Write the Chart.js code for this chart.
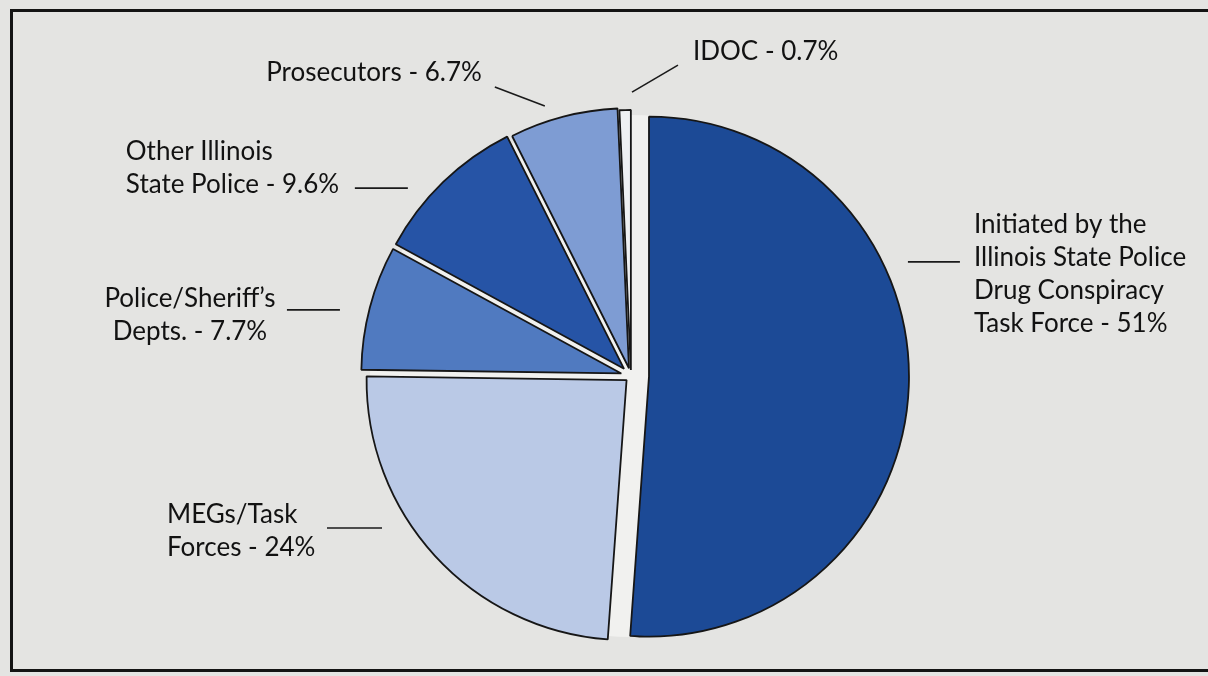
<!DOCTYPE html>
<html>
<head>
<meta charset="utf-8">
<title>Drug conspiracy cases by source</title>
<script src="https://cdn.jsdelivr.net/npm/chart.js@4.4.1/dist/chart.umd.min.js"></script>
<style>
  html, body { margin: 0; padding: 0; background: #e4e4e2; }
  body { width: 1208px; height: 676px; overflow: hidden; position: relative; }
  #frame { position: absolute; left: 10px; top: 9px; width: 1300px; height: 657px; border: 3px solid #141414; }
  #pie { position: absolute; left: 0; top: 0; }
</style>
</head>
<body>
<div id="frame"></div>
<canvas id="pie" width="1208" height="676"></canvas>
<script>
/* data, clockwise from 12 o'clock */
const categories = [
  "Initiated by the Illinois State Police Drug Conspiracy Task Force",
  "MEGs/Task Forces",
  "Police/Sheriff’s Depts.",
  "Other Illinois State Police",
  "Prosecutors",
  "IDOC"
];
const shares = [51, 24, 7.7, 9.6, 6.7, 0.7];

// how each label is broken into lines (the value is added to the last line)
const labelNames = [
  ["Initiated by the", "Illinois State Police", "Drug Conspiracy", "Task Force"],
  ["MEGs/Task", "Forces"],
  ["Police/Sheriff’s", "Depts."],
  ["Other Illinois", "State Police"],
  ["Prosecutors"],
  ["IDOC"]
];

/* styling */
const sliceColors = ["#1c4a96", "#bac9e6", "#507ac0", "#2654a6", "#7e9cd3", "#eef0f3"];
const explodePx   = [18, 6, 10, 10, 8, 6];   // how far each slice is pulled out
const pieRadius   = 260;
const textFont    = "26px Lato, 'Open Sans', sans-serif";

// leader line: starts at (angle, k * radius) from the centre, then runs (dx, dy);
// text is placed from the far end of the line
const leaders = [
  { angle: 67.6,  k: 1.152, dx: 52,  dy: 0,   align: "left",   tx: 14,   ty: -29 },
  { angle: 238.6, k: 1.122, dx: -55, dy: 0,   align: "left",   tx: -160, ty: -5 },
  { angle: 282.8, k: 1.148, dx: -53, dy: 0,   align: "center", tx: -97,  ty: -3 },
  { angle: 310.1, k: 1.122, dx: -53, dy: 0,   align: "left",   tx: -229, ty: -28 },
  { angle: 342.3, k: 1.090, dx: -50, dy: -19, align: "right",  tx: -13,  ty: -6 },
  { angle: 0.2,   k: 1.092, dx: 46,  dy: -27, align: "left",   tx: 15,   ty: -5 }
];
const lineHeight = 33;

function labelText(i) {
  const lines = labelNames[i].slice();
  lines[lines.length - 1] += " - " + shares[i] + "%";
  return lines;
}

// pull the slices apart (move each arc along its middle angle)
const explodePlugin = {
  id: "explode",
  afterDatasetsUpdate(chart) {
    const meta = chart.getDatasetMeta(0);
    meta.data.forEach((arc, i) => {
      const mid = (arc.startAngle + arc.endAngle) / 2;
      arc.cx0 = arc.x;
      arc.cy0 = arc.y;
      arc.x += Math.cos(mid) * explodePx[i];
      arc.y += Math.sin(mid) * explodePx[i];
    });
  }
};

// whitish disc under the pie so the gaps between slices read as white
const backdropPlugin = {
  id: "backdrop",
  beforeDatasetsDraw(chart) {
    const arc = chart.getDatasetMeta(0).data[0];
    if (!arc) return;
    const ctx = chart.ctx;
    ctx.save();
    ctx.fillStyle = "#f1f1ef";
    ctx.beginPath();
    ctx.arc(arc.cx0, arc.cy0, arc.outerRadius + 1, 0, Math.PI * 2);
    ctx.fill();
    ctx.restore();
  }
};

// leader lines and the text labels
const labelsPlugin = {
  id: "leaderLabels",
  afterDatasetsDraw(chart) {
    const ctx = chart.ctx;
    const meta = chart.getDatasetMeta(0);
    ctx.save();
    ctx.strokeStyle = "#1a1a1a";
    ctx.lineWidth = 1.6;
    ctx.fillStyle = "#121212";
    ctx.font = textFont;
    ctx.textBaseline = "alphabetic";
    meta.data.forEach((arc, i) => {
      const L = leaders[i];
      const a = L.angle * Math.PI / 180;
      const r = arc.outerRadius * L.k;
      const x1 = arc.cx0 + Math.sin(a) * r;
      const y1 = arc.cy0 - Math.cos(a) * r;
      const x2 = x1 + L.dx, y2 = y1 + L.dy;
      ctx.beginPath();
      ctx.moveTo(x1, y1);
      ctx.lineTo(x2, y2);
      ctx.stroke();
      ctx.textAlign = L.align;
      labelText(i).forEach((t, j) => {
        ctx.fillText(t, x2 + L.tx, y2 + L.ty + j * lineHeight);
      });
    });
    ctx.restore();
  }
};

const ctx = document.getElementById("pie");
new Chart(ctx, {
  type: "pie",
  data: {
    labels: categories,
    datasets: [{
      data: shares,
      backgroundColor: sliceColors,
      borderColor: "#161616",
      borderWidth: 1.8,
      radius: pieRadius
    }]
  },
  options: {
    responsive: false,
    animation: false,
    events: [],
    layout: { padding: { left: 54, top: 76, right: 0, bottom: 0 } },
    plugins: {
      legend: { display: false },
      tooltip: { enabled: false },
      title: { display: false }
    }
  },
  plugins: [explodePlugin, backdropPlugin, labelsPlugin]
});
</script>
</body>
</html>
